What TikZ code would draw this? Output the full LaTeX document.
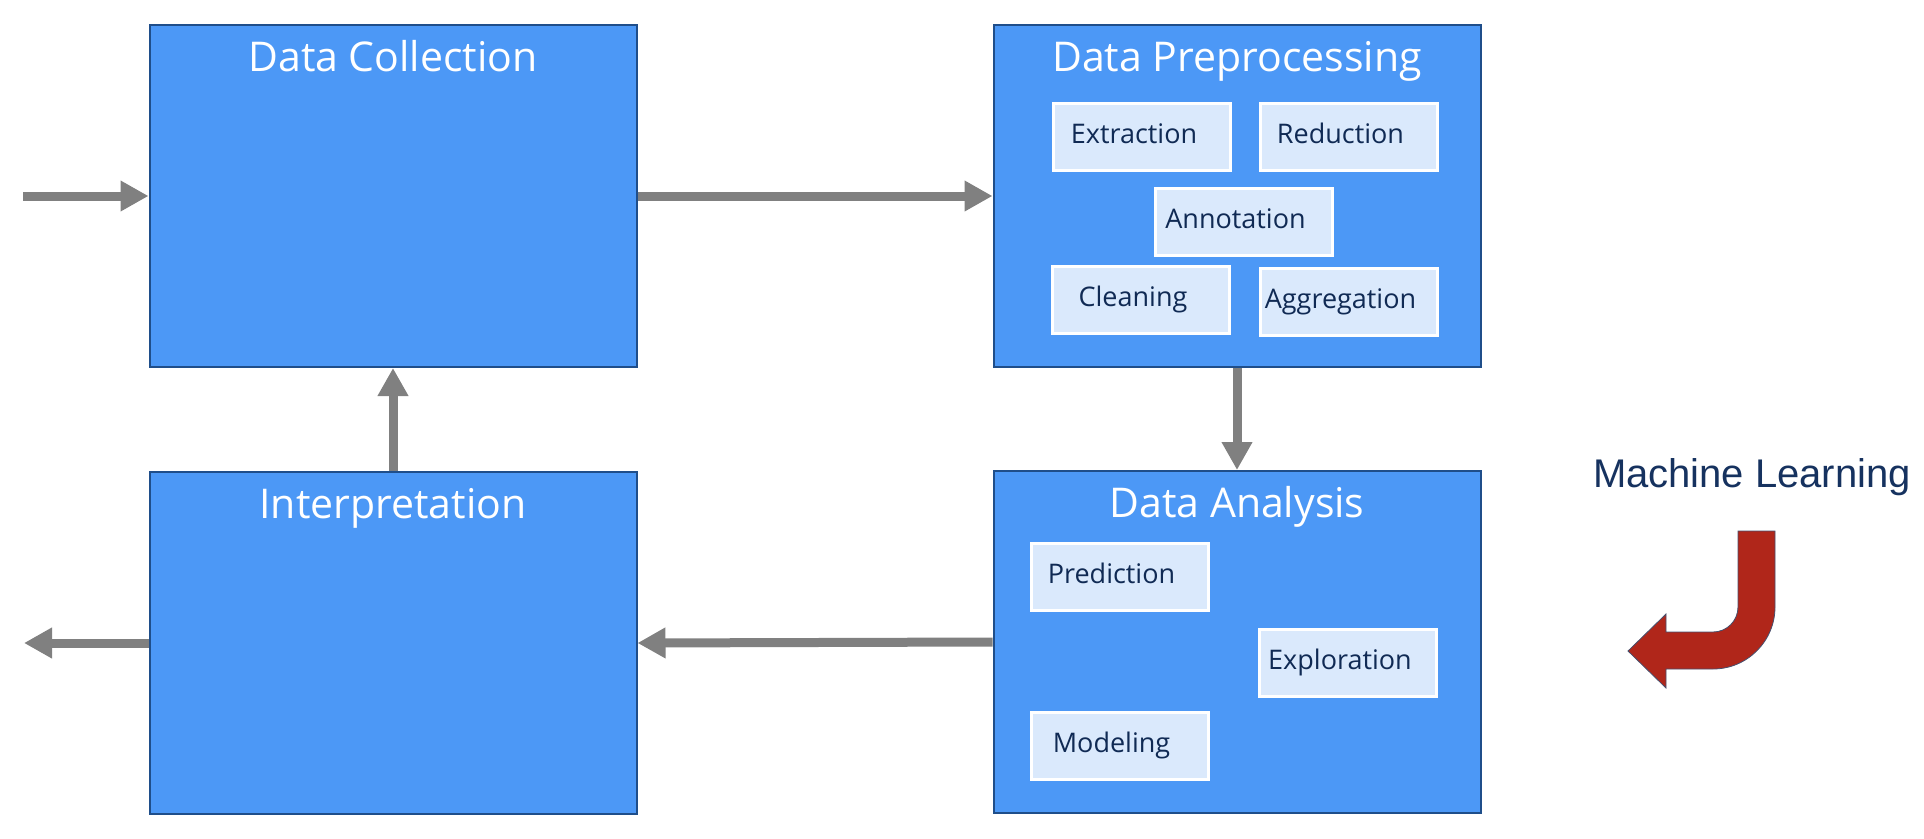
\documentclass[tikz,border=0pt]{standalone}
\usepackage{fontspec}
\setmainfont{Open Sans}
\newfontfamily\mlfont{Liberation Sans}
\usepackage{xcolor}
\usepackage{tikz}
\usetikzlibrary{arrows.meta,calc}

\definecolor{boxfill}{RGB}{76,152,246}
\definecolor{boxedge}{RGB}{31,78,138}
\definecolor{taskfill}{RGB}{218,233,252}
\definecolor{taskink}{RGB}{16,42,84}
\definecolor{flowgray}{RGB}{128,128,128}
\definecolor{mlred}{RGB}{176,38,26}
\definecolor{mledge}{RGB}{70,80,110}
\definecolor{mlink}{RGB}{22,50,95}

\tikzset{
  stage/.style={draw=boxedge, fill=boxfill, line width=2pt, minimum width=487pt, minimum height=342pt, inner sep=0pt},
  stagetitle/.style={text=white, anchor=base, inner sep=0pt, font=\fontsize{41}{49}\selectfont},
  task/.style={draw=white, fill=taskfill, line width=3pt, minimum width=177pt, minimum height=67pt, inner sep=0pt},
  tasktext/.style={text=taskink, anchor=base, inner sep=0pt, font=\fontsize{27}{32}\selectfont},
  flow/.style={draw=flowgray, line width=9pt, -{Triangle[length=28pt,width=29pt]}},
}

\begin{document}
\begin{tikzpicture}[x=1pt,y=-1pt]
    \useasboundingbox (0,0) rectangle (1924,838);

    % the four stages
    \node[stage] (coll)   at (393,196)  {};
    \node[stage] (prep)   at (1237,196) {};
    \node[stage] (interp) at (393,643)  {};
    \node[stage] (anal)   at (1237,642) {};

    \node[stagetitle] (coll-t)   at ([yshift=-47pt]coll.north)   {Data Collection};
    \node[stagetitle] (prep-t)   at ([yshift=-47pt]prep.north)   {Data Preprocessing};
    \node[stagetitle] (interp-t) at ([yshift=-47pt]interp.north) {Interpretation};
    \node[stagetitle] (anal-t)   at ([yshift=-47pt]anal.north)   {Data Analysis};

    % preprocessing steps
    \node[task] (extr) at (1142,136.5)   {};
    \node[task] (redu) at (1348.5,136.5) {};
    \node[task] (anno) at (1243.5,221.5) {};
    \node[task] (clea) at (1141,299.5)   {};
    \node[task] (aggr) at (1348.5,301.5) {};
    \node[tasktext] (extr-t) at ([xshift=-8pt,yshift=-6.5pt]extr.center) {Extraction};
    \node[tasktext] (redu-t) at ([xshift=-8pt,yshift=-6.5pt]redu.center) {Reduction};
    \node[tasktext] (anno-t) at ([xshift=-8pt,yshift=-6.5pt]anno.center) {Annotation};
    \node[tasktext] (clea-t) at ([xshift=-8pt,yshift=-6.5pt]clea.center) {Cleaning};
    \node[tasktext] (aggr-t) at ([xshift=-8pt,yshift=-6.5pt]aggr.center) {Aggregation};

    % analysis steps
    \node[task] (pred) at (1119.5,577)   {};
    \node[task] (expl) at (1348,663)     {};
    \node[task] (mode) at (1119.5,745.5) {};
    \node[tasktext] (pred-t) at ([xshift=-8pt,yshift=-6.5pt]pred.center) {Prediction};
    \node[tasktext] (expl-t) at ([xshift=-8pt,yshift=-6.5pt]expl.center) {Exploration};
    \node[tasktext] (mode-t) at ([xshift=-8pt,yshift=-6.5pt]mode.center) {Modeling};

    % connectors
    \coordinate (in)  at (23,196);
    \coordinate (out) at (24,643);
    \draw[flow] (in)--(coll.west);
    \draw[flow] (coll.east)--(prep.west);
    \draw[flow] (prep.south)--(anal.north);
    \draw[flow] (anal.west)--(interp.east);
    \draw[flow] (interp.north)--(coll.south);
    \draw[flow] (interp.west)--(out);

    % machine learning hint
    \node[text=mlink, anchor=base, inner sep=0pt, font=\mlfont\fontsize{40}{48}\selectfont] (ml) at (1752,487) {Machine Learning};
    \filldraw[fill=mlred, draw=mledge, line width=0.8pt]
        (1738,531) -- (1775,531) -- (1775,607)
        .. controls (1775,641.2) and (1747.2,669) .. (1713,669)
        -- (1666,669) -- (1666,688) -- (1628,651) -- (1666,614) -- (1666,632) -- (1713,632)
        .. controls (1726.8,632) and (1738,620.8) .. (1738,607) -- cycle;
\end{tikzpicture}
\end{document}
